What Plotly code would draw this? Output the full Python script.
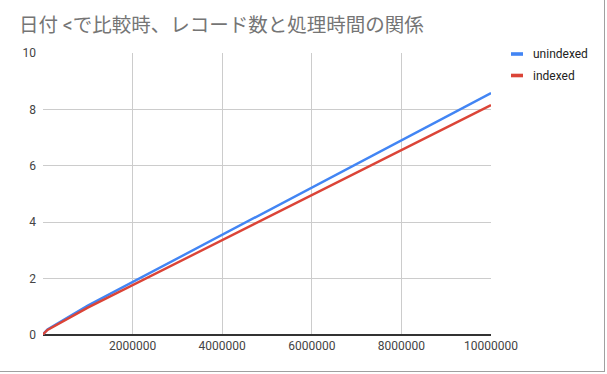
import plotly.graph_objects as go

records = [0, 10000, 100000, 1000000, 10000000]
unindexed = [0, 0.04, 0.2, 1.04, 8.58]
indexed = [0, 0.04, 0.18, 0.97, 8.15]
series_names = ["unindexed", "indexed"]
series_colors = ["#4285F4", "#DB4437"]
x_ticks = [2000000, 4000000, 6000000, 8000000, 10000000]
y_ticks = [0, 2, 4, 6, 8, 10]
title = "日付 &lt;で比較時、レコード数と処理時間の関係"

W, H = 607, 374
L, R, T, B = 43, 116, 53, 39
pw, ph = W - L - R, H - T - B

def px(x):
    return (x - L) / pw

def py(y):
    return (H - B - y) / ph

fig = go.Figure()
for name, vals, col in zip(series_names, [unindexed, indexed], series_colors):
    fig.add_trace(go.Scatter(x=records, y=vals, mode="lines", name=name,
                             line=dict(color=col, width=2.4), showlegend=False))

shapes = []
annotations = []
font = "Roboto, 'Noto Sans CJK JP', sans-serif"
# legend
for i, (name, col) in enumerate(zip(series_names, series_colors)):
    yc = 54 + i * 21.5
    shapes.append(dict(type="rect", xref="paper", yref="paper",
                       x0=px(511), x1=px(523), y0=py(yc - 1.8), y1=py(yc + 1.8),
                       fillcolor=col, line=dict(width=0)))
    annotations.append(dict(text=name, xref="paper", yref="paper", x=px(531), y=py(yc),
                            xanchor="left", yanchor="middle", showarrow=False,
                            font=dict(family=font, size=12, color="#222222")))
# frame lines of the screenshot
shapes.append(dict(type="line", xref="paper", yref="paper", x0=px(604.5), x1=px(604.5),
                   y0=py(0), y1=py(372), line=dict(color="#a0a0a0", width=1)))
shapes.append(dict(type="line", xref="paper", yref="paper", x0=px(0), x1=px(605),
                   y0=py(371.5), y1=py(371.5), line=dict(color="#a0a0a0", width=1)))

fig.update_layout(
    width=W, height=H,
    margin=dict(l=L, r=R, t=T, b=B),
    paper_bgcolor="white", plot_bgcolor="white",
    title=dict(text=title, x=19 / W, xref="container", xanchor="left",
               y=1 - 25 / H, yref="container", yanchor="middle",
               font=dict(family=font, size=19.5, color="#757575")),
    xaxis=dict(range=[0, 10000000], tickvals=x_ticks, ticktext=[str(v) for v in x_ticks],
               showgrid=True, gridcolor="#cccccc", gridwidth=1, zeroline=False,
               showline=False, ticks="", ticklabelstandoff=2,
               tickfont=dict(family=font, size=12, color="#444444")),
    yaxis=dict(range=[0, 10], tickvals=y_ticks, showgrid=True, gridcolor="#cccccc",
               zeroline=True, zerolinecolor="#333333", zerolinewidth=1.6,
               showline=False, ticks="", ticklabelstandoff=6,
               tickfont=dict(family=font, size=12, color="#444444")),
    shapes=shapes, annotations=annotations,
)
fig.write_html("out.html")
